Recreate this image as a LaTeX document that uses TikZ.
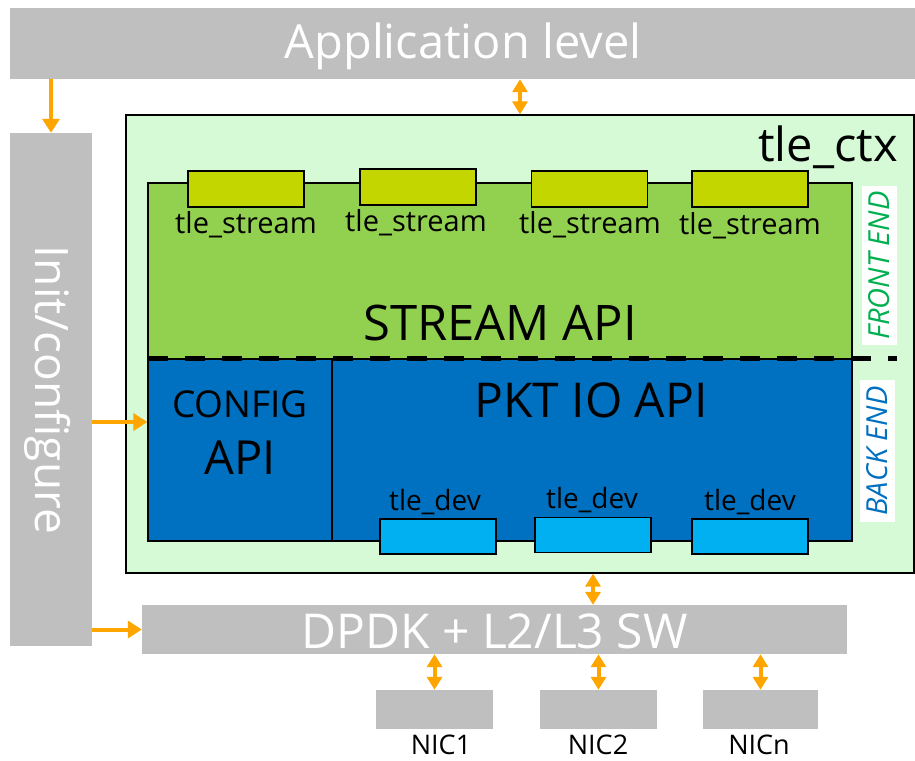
\documentclass[tikz,border=0pt]{standalone}
\usepackage{fontspec}
\setmainfont{Open Sans}
\usetikzlibrary{arrows.meta,calc}
\definecolor{bargray}{RGB}{191,191,191}
\definecolor{ctxbg}{RGB}{213,250,213}
\definecolor{frontgreen}{RGB}{146,208,80}
\definecolor{backblue}{RGB}{0,112,192}
\definecolor{streamcol}{RGB}{196,214,0}
\definecolor{devcol}{RGB}{0,176,240}
\definecolor{arrorange}{RGB}{255,165,0}
\definecolor{fetext}{RGB}{0,176,80}
\tikzset{
  graybar/.style={fill=bargray, draw=none, inner sep=0pt, text=white},
  blk/.style={draw=black, line width=1.3pt, inner sep=0pt},
  smallbox/.style={blk, minimum width=116pt, minimum height=36pt},
  lbl/.style={inner sep=0pt, font=\fontsize{29}{32}\selectfont},
  devlbl/.style={inner sep=0pt, font=\fontsize{28}{31}\selectfont},
  niclbl/.style={inner sep=0pt, font=\fontsize{27}{30}\selectfont},
  arr/.style={draw=arrorange, line width=4pt, -{Triangle[length=14pt,width=17pt]}},
  darr/.style={draw=arrorange, line width=4pt, {Triangle[length=13pt,width=15pt]}-{Triangle[length=13pt,width=15pt]}},
  sidelbl/.style={fill=white, inner sep=0pt, rotate=90, font=\fontsize{29}{32}\selectfont\itshape},
}
\begin{document}
\begin{tikzpicture}[x=1pt,y=-1pt]
\useasboundingbox (0,0) rectangle (915,760);
% gray bars
\node[graybar, minimum width=905pt, minimum height=71pt] (app) at (462.5,43.5) {};
\node[text=white, inner sep=0pt, font=\fontsize{47}{50}\selectfont] (apptxt) at (463,46) {Application level};
\node[graybar, minimum width=82pt, minimum height=513pt] (left) at (51,389.5) {};
\node[text=white, inner sep=0pt, rotate=-90, font=\fontsize{46}{50}\selectfont] (lefttxt) at (48,390) {Init/configure};
\node[graybar, minimum width=705pt, minimum height=49pt] (dpdk) at (494.5,629.5) {};
\node[text=white, inner sep=0pt, font=\fontsize{48}{50}\selectfont] (dpdktxt) at (494.5,631) {DPDK + L2/L3 SW};
% context
\node[blk, fill=ctxbg, minimum width=788pt, minimum height=458pt] (ctx) at (520,344) {};
\node[inner sep=0pt, anchor=base east, font=\fontsize{47}{50}\selectfont] (ctxlbl) at (898,161) {tle\_ctx};
\node[blk, fill=frontgreen, minimum width=704pt, minimum height=176pt] (front) at (500,271) {};
\node[blk, fill=backblue, minimum width=704pt, minimum height=182pt] (back) at (500,450) {};
\coordinate (divtop) at (332,359);
\coordinate (divbot) at (332,541);
\draw[line width=1.3pt] (divtop) -- (divbot);
\node[inner sep=0pt, font=\fontsize{49}{52}\selectfont] (streamapi) at (500,323) {STREAM API};
\node[inner sep=0pt, font=\fontsize{48}{52}\selectfont] (pktio) at (591,400) {PKT IO API};
\node[inner sep=0pt, font=\fontsize{37}{40}\selectfont] (config) at (240,404) {CONFIG};
\node[inner sep=0pt, font=\fontsize{47}{50}\selectfont] (configapi) at (240,458) {API};
% stream boxes
\node[smallbox, fill=streamcol] (s1) at (246,189) {};
\node[smallbox, fill=streamcol] (s2) at (418,187) {};
\node[smallbox, fill=streamcol] (s3) at (589.5,189) {};
\node[smallbox, fill=streamcol] (s4) at (750,189) {};
\node[lbl] (s1l) at (246,225) {tle\_stream};
\node[lbl] (s2l) at (416,223) {tle\_stream};
\node[lbl] (s3l) at (590,225) {tle\_stream};
\node[lbl] (s4l) at (750,226) {tle\_stream};
% dev boxes
\node[smallbox, fill=devcol, minimum height=35pt] (d1) at (438,536.5) {};
\node[smallbox, fill=devcol, minimum height=35pt] (d2) at (593,535) {};
\node[smallbox, fill=devcol, minimum height=35pt] (d3) at (750,536.5) {};
\node[devlbl] (d1l) at (435,502) {tle\_dev};
\node[devlbl] (d2l) at (592,500) {tle\_dev};
\node[devlbl] (d3l) at (750,502) {tle\_dev};
% dashed separator
\coordinate (dashA) at (148,358.5);
\coordinate (dashB) at (897,358.5);
\draw[line width=4.5pt, dash pattern=on 20pt off 17pt] (dashA) -- (dashB);
% side labels
\node[sidelbl, text=fetext, minimum width=159pt, minimum height=35pt] (fe) at (879.5,265.5) {FRONT END};
\node[sidelbl, text=backblue, minimum width=142pt, minimum height=35pt] (be) at (877.5,451) {BACK END};
% NICs
\node[graybar, minimum width=117pt, minimum height=39pt] (nic1) at (434.5,709.5) {};
\node[graybar, minimum width=117pt, minimum height=39pt] (nic2) at (598.5,709.5) {};
\node[graybar, minimum width=115pt, minimum height=39pt] (nic3) at (760.5,709.5) {};
\node[niclbl] (nic1l) at (441,745) {NIC1};
\node[niclbl] (nic2l) at (598,745) {NIC2};
\node[niclbl] (nic3l) at (759,745) {NICn};
% arrows
\coordinate (cfgy) at (0,422);
\draw[arr] (app.south -| left.north) -- (left.north);
\draw[darr] (app.south -| ctx.north) -- (ctx.north);
\draw[arr] (left.east |- cfgy) -- (back.west |- cfgy);
\draw[arr] (left.east |- dpdk.west) -- (dpdk.west);
\draw[darr] (ctx.south -| d2.south) -- (dpdk.north -| d2.south);
\draw[darr] (dpdk.south -| nic1.north) -- (nic1.north);
\draw[darr] (dpdk.south -| nic2.north) -- (nic2.north);
\draw[darr] (dpdk.south -| nic3.north) -- (nic3.north);
\end{tikzpicture}
\end{document}
